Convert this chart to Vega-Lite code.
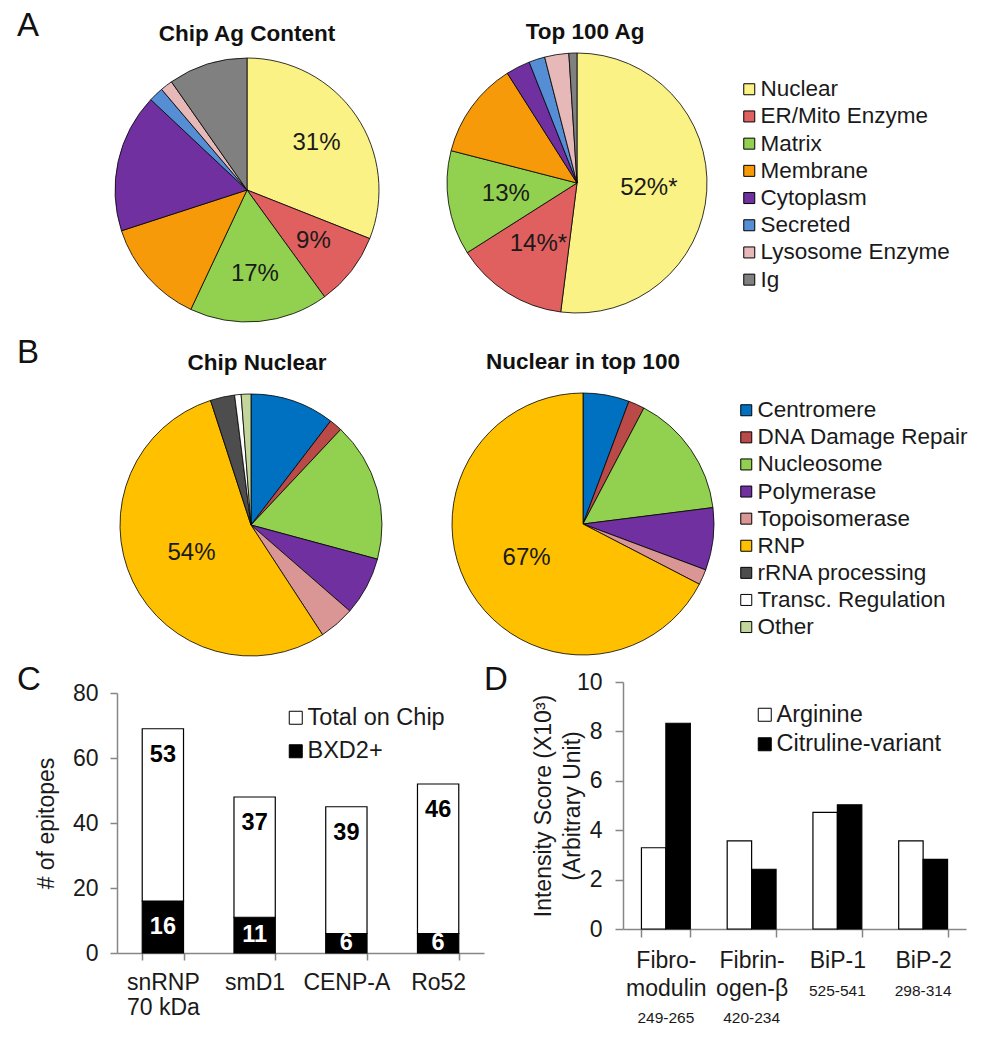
{
  "$schema": "https://vega.github.io/schema/vega-lite/v6.json",
  "padding": {"left": 17, "top": 10, "right": 0, "bottom": 0},
  "background": "white",
  "config": {
    "font": "Liberation Sans",
    "view": {"stroke": null},
    "title": {"font": "Liberation Sans", "color": "#111111"},
    "text": {"font": "Liberation Sans"},
    "legend": {"labelFont": "Liberation Sans", "labelColor": "#1a1a1a", "labelLimit": 400},
    "axis": {
      "grid": false,
      "domainColor": "#868686",
      "tickColor": "#868686",
      "domainWidth": 1.5,
      "tickWidth": 1.5,
      "labelColor": "#1a1a1a",
      "titleColor": "#1a1a1a",
      "labelFont": "Liberation Sans",
      "titleFont": "Liberation Sans",
      "labelFontSize": 23,
      "titleFontSize": 23,
      "titleFontWeight": "normal"
    }
  },
  "datasets": {
    "agChip": [
      {"c": "Nuclear", "v": 31, "r": 1, "l": "31%"},
      {"c": "ER/Mito Enzyme", "v": 9, "r": 2, "l": "9%"},
      {"c": "Matrix", "v": 17, "r": 3, "l": "17%"},
      {"c": "Membrane", "v": 13, "r": 4, "l": ""},
      {"c": "Cytoplasm", "v": 17, "r": 5, "l": ""},
      {"c": "Secreted", "v": 1.8, "r": 6, "l": ""},
      {"c": "Lysosome Enzyme", "v": 1.5, "r": 7, "l": ""},
      {"c": "Ig", "v": 9.7, "r": 8, "l": ""}
    ],
    "agTop": [
      {"c": "Nuclear", "v": 52, "r": 1, "l": "52%*"},
      {"c": "ER/Mito Enzyme", "v": 14, "r": 2, "l": "14%*"},
      {"c": "Matrix", "v": 13, "r": 3, "l": "13%"},
      {"c": "Membrane", "v": 12, "r": 4, "l": ""},
      {"c": "Cytoplasm", "v": 3, "r": 5, "l": ""},
      {"c": "Secreted", "v": 2, "r": 6, "l": ""},
      {"c": "Lysosome Enzyme", "v": 3, "r": 7, "l": ""},
      {"c": "Ig", "v": 1, "r": 8, "l": ""}
    ],
    "nucChip": [
      {"c": "Centromere", "v": 10.4, "r": 1, "l": ""},
      {"c": "DNA Damage Repair", "v": 1.6, "r": 2, "l": ""},
      {"c": "Nucleosome", "v": 17.2, "r": 3, "l": ""},
      {"c": "Polymerase", "v": 7.2, "r": 4, "l": ""},
      {"c": "Topoisomerase", "v": 4.4, "r": 5, "l": ""},
      {"c": "RNP", "v": 54.2, "r": 6, "l": "54%"},
      {"c": "rRNA processing", "v": 3, "r": 7, "l": ""},
      {"c": "Transc. Regulation", "v": 0.8, "r": 8, "l": ""},
      {"c": "Other", "v": 1.2, "r": 9, "l": ""}
    ],
    "nucTop": [
      {"c": "Centromere", "v": 5.7, "r": 1, "l": ""},
      {"c": "DNA Damage Repair", "v": 2, "r": 2, "l": ""},
      {"c": "Nucleosome", "v": 15.3, "r": 3, "l": ""},
      {"c": "Polymerase", "v": 7.7, "r": 4, "l": ""},
      {"c": "Topoisomerase", "v": 1.9, "r": 5, "l": ""},
      {"c": "RNP", "v": 67.4, "r": 6, "l": "67%"}
    ],
    "epi": [
      {"p": "snRNP|70 kDa", "s": "BXD2+", "v": 16},
      {"p": "snRNP|70 kDa", "s": "Total on Chip", "v": 53},
      {"p": "smD1", "s": "BXD2+", "v": 11},
      {"p": "smD1", "s": "Total on Chip", "v": 37},
      {"p": "CENP-A", "s": "BXD2+", "v": 6},
      {"p": "CENP-A", "s": "Total on Chip", "v": 39},
      {"p": "Ro52", "s": "BXD2+", "v": 6},
      {"p": "Ro52", "s": "Total on Chip", "v": 46}
    ],
    "cit": [
      {"g": "Fibro-|modulin|249-265", "s": "Arginine", "v": 3.29},
      {"g": "Fibro-|modulin|249-265", "s": "Citruline-variant", "v": 8.33},
      {"g": "Fibrin-|ogen-β|420-234", "s": "Arginine", "v": 3.57},
      {"g": "Fibrin-|ogen-β|420-234", "s": "Citruline-variant", "v": 2.42},
      {"g": "BiP-1|525-541", "s": "Arginine", "v": 4.72},
      {"g": "BiP-1|525-541", "s": "Citruline-variant", "v": 5.03},
      {"g": "BiP-2|298-314", "s": "Arginine", "v": 3.57},
      {"g": "BiP-2|298-314", "s": "Citruline-variant", "v": 2.82}
    ]
  },
  "bounds": "full",
  "spacing": 0,
  "resolve": {"scale": {"color": "independent"}, "legend": {"color": "independent"}},
  "vconcat": [
    {
      "bounds": "flush",
      "spacing": 0,
      "resolve": {"scale": {"color": "independent"}, "legend": {"color": "independent"}},
      "hconcat": [
        {"width": 98, "height": 283, "data": {"values": [{}]}, "mark": {"type": "point", "opacity": 0},
         "title": {"text": "A", "anchor": "start", "frame": "group", "fontSize": 33, "fontWeight": "normal", "offset": 10}},
        {
          "width": 264, "height": 274,
          "data": {"name": "agChip"},
          "title": {"text": "Chip Ag Content", "frame": "group", "fontSize": 22.5, "fontWeight": "bold", "offset": 8},
          "encoding": {
            "theta": {"field": "v", "type": "quantitative", "stack": true},
            "color": {"field": "c", "type": "nominal",
              "scale": {"domain": ["Nuclear", "ER/Mito Enzyme", "Matrix", "Membrane", "Cytoplasm", "Secreted", "Lysosome Enzyme", "Ig"],
                        "range": ["#FAF285", "#E05F5F", "#92D050", "#F79A0A", "#7030A0", "#558ED5", "#E6B9B8", "#808080"]},
              "legend": null},
            "order": {"field": "r", "type": "quantitative"}
          },
          "layer": [
            {"mark": {"type": "arc", "radius": 132, "stroke": "black", "strokeWidth": 0.8}},
            {"mark": {"type": "text", "radius": 84, "fontSize": 24}, "encoding": {"text": {"field": "l"}, "fill": {"value": "#1a1a1a"}}}
          ]
        },
        {"width": 68, "height": 1, "data": {"values": [{}]}, "mark": {"type": "point", "opacity": 0}},
        {
          "width": 260, "height": 260,
          "data": {"name": "agTop"},
          "title": {"text": "Top 100 Ag", "frame": "group", "fontSize": 22.5, "fontWeight": "bold", "offset": 8, "dx": 8},
          "encoding": {
            "theta": {"field": "v", "type": "quantitative", "stack": true},
            "color": {"field": "c", "type": "nominal",
              "scale": {"domain": ["Nuclear", "ER/Mito Enzyme", "Matrix", "Membrane", "Cytoplasm", "Secreted", "Lysosome Enzyme", "Ig"],
                        "range": ["#FAF285", "#E05F5F", "#92D050", "#F79A0A", "#7030A0", "#558ED5", "#E6B9B8", "#808080"]},
              "legend": {"title": null, "orient": "none", "legendX": 291, "legendY": 25, "symbolType": "square", "symbolSize": 121,
                         "symbolStrokeColor": "black", "symbolStrokeWidth": 1, "labelFontSize": 22.5, "rowPadding": 4.2, "labelOffset": 0}},
            "order": {"field": "r", "type": "quantitative"}
          },
          "layer": [
            {"mark": {"type": "arc", "radius": 130, "stroke": "black", "strokeWidth": 0.8}},
            {"mark": {"type": "text", "radius": 72, "fontSize": 24}, "encoding": {"text": {"field": "l"}, "fill": {"value": "#1a1a1a"}}}
          ]
        }
      ]
    },
    {
      "bounds": "flush",
      "spacing": 0,
      "resolve": {"scale": {"color": "independent"}, "legend": {"color": "independent"}},
      "hconcat": [
        {"width": 103, "height": 1, "data": {"values": [{}]}, "mark": {"type": "point", "opacity": 0},
         "title": {"text": "B", "anchor": "start", "frame": "group", "fontSize": 33, "fontWeight": "normal", "offset": 22}},
        {
          "width": 262, "height": 262,
          "data": {"name": "nucChip"},
          "title": {"text": "Chip Nuclear", "frame": "group", "fontSize": 22.5, "fontWeight": "bold", "offset": 18, "dx": 6},
          "encoding": {
            "theta": {"field": "v", "type": "quantitative", "stack": true},
            "color": {"field": "c", "type": "nominal",
              "scale": {"domain": ["Centromere", "DNA Damage Repair", "Nucleosome", "Polymerase", "Topoisomerase", "RNP", "rRNA processing", "Transc. Regulation", "Other"],
                        "range": ["#0070C0", "#B94A48", "#92D050", "#7030A0", "#D99694", "#FFC000", "#4D4D4D", "#FFFFFF", "#C3D69B"]},
              "legend": null},
            "order": {"field": "r", "type": "quantitative"}
          },
          "layer": [
            {"mark": {"type": "arc", "radius": 131, "stroke": "black", "strokeWidth": 0.8}},
            {"mark": {"type": "text", "radius": 66, "fontSize": 24}, "encoding": {"text": {"field": "l"}, "fill": {"value": "#1a1a1a"}}}
          ]
        },
        {"width": 70, "height": 1, "data": {"values": [{}]}, "mark": {"type": "point", "opacity": 0}},
        {
          "width": 262, "height": 260,
          "data": {"name": "nucTop"},
          "title": {"text": "Nuclear in top 100", "frame": "group", "fontSize": 22.5, "fontWeight": "bold", "offset": 18},
          "encoding": {
            "theta": {"field": "v", "type": "quantitative", "stack": true},
            "color": {"field": "c", "type": "nominal",
              "scale": {"domain": ["Centromere", "DNA Damage Repair", "Nucleosome", "Polymerase", "Topoisomerase", "RNP", "rRNA processing", "Transc. Regulation", "Other"],
                        "range": ["#0070C0", "#B94A48", "#92D050", "#7030A0", "#D99694", "#FFC000", "#4D4D4D", "#FFFFFF", "#C3D69B"]},
              "legend": {"title": null, "orient": "none", "legendX": 283, "legendY": 5, "symbolType": "square", "symbolSize": 121,
                         "symbolStrokeColor": "black", "symbolStrokeWidth": 1, "labelFontSize": 22.5, "rowPadding": 4.1, "labelOffset": 0}},
            "order": {"field": "r", "type": "quantitative"}
          },
          "layer": [
            {"mark": {"type": "arc", "radius": 131, "stroke": "black", "strokeWidth": 0.8}},
            {"mark": {"type": "text", "radius": 66, "fontSize": 24}, "encoding": {"text": {"field": "l"}, "fill": {"value": "#1a1a1a"}}}
          ]
        }
      ]
    },
    {
      "bounds": "flush",
      "spacing": 0,
      "resolve": {"scale": {"color": "independent"}, "legend": {"color": "independent"}},
      "hconcat": [
        {"width": 100, "height": 1, "data": {"values": [{}]}, "mark": {"type": "point", "opacity": 0},
         "title": {"text": "C", "anchor": "start", "orient": "bottom", "frame": "group", "fontSize": 33, "fontWeight": "normal", "offset": 0}},
        {
          "width": 367, "height": 292,
          "data": {"name": "epi"},
          "encoding": {
            "x": {"field": "p", "type": "nominal", "sort": null,
                  "scale": {"paddingInner": 0.55, "paddingOuter": 0.275},
                  "axis": {"title": null, "labelAngle": 0, "tickBand": "extent", "tickSize": 7, "labelPadding": 11,
                           "labelBaseline": "top", "labelLineHeight": 25, "labelExpr": "split(datum.label, '|')"}}
          },
          "resolve": {"scale": {"y": "independent"}},
          "layer": [
            {
              "mark": {"type": "bar", "stroke": "black", "strokeWidth": 1.2},
              "encoding": {
                "y": {"field": "v", "type": "quantitative", "stack": "zero", "scale": {"domain": [0, 80], "range": [292, 32]},
                      "axis": {"values": [0, 20, 40, 60, 80], "title": "# of epitopes", "tickSize": 7, "labelPadding": 12, "titlePadding": 14}},
                "color": {"field": "s", "type": "nominal",
                  "scale": {"domain": ["Total on Chip", "BXD2+"], "range": ["#FFFFFF", "#000000"]},
                  "legend": {"title": null, "orient": "none", "legendX": 167, "legendY": 45, "symbolType": "square", "symbolSize": 169,
                             "symbolStrokeColor": "black", "symbolStrokeWidth": 1, "labelFontSize": 23.5, "rowPadding": 8.5, "labelOffset": 0}},
                "order": {"field": "s", "type": "ordinal", "sort": "ascending"}
              }
            },
            {
              "mark": {"type": "text", "dy": 26, "fontSize": 23.5, "fontWeight": "bold", "baseline": "middle"},
              "encoding": {
                "y": {"field": "v", "type": "quantitative", "stack": "zero", "scale": {"domain": [0, 80], "range": [292, 32]}, "axis": null},
                "detail": {"field": "s", "type": "nominal"},
                "order": {"field": "s", "type": "ordinal", "sort": "ascending"},
                "text": {"condition": {"test": "datum.s == 'Total on Chip'", "field": "v", "type": "quantitative"}, "value": ""},
                "fill": {"value": "#000000"}
              }
            },
            {
              "transform": [{"filter": "datum.s == 'BXD2+'"}],
              "mark": {"type": "text", "fontSize": 23.5, "fontWeight": "bold", "baseline": "middle"},
              "encoding": {
                "y": {"field": "v", "type": "quantitative", "scale": {"domain": [0, 160], "range": [292, 32]}, "axis": null},
                "text": {"field": "v", "type": "quantitative"},
                "fill": {"value": "#FFFFFF"}
              }
            }
          ]
        },
        {"width": 139, "height": 1, "data": {"values": [{}]}, "mark": {"type": "point", "opacity": 0},
         "title": {"text": "D", "anchor": "start", "orient": "bottom", "frame": "group", "fontSize": 33, "fontWeight": "normal", "offset": 0}},
        {
          "width": 343, "height": 268,
          "data": {"name": "cit"},
          "resolve": {"axis": {"x": "independent"}},
          "layer": [
            {
              "mark": {"type": "bar", "stroke": "black", "strokeWidth": 1.2},
              "encoding": {
                "x": {"field": "g", "type": "nominal", "sort": null,
                      "scale": {"paddingInner": 0.43, "paddingOuter": 0.215},
                      "axis": {"title": null, "orient": "bottom", "labelAngle": 0, "tickBand": "extent", "tickSize": 8, "labelPadding": 12,
                               "labelBaseline": "top", "labelLineHeight": 28,
                               "labelExpr": "length(split(datum.label, '|')) == 3 ? slice(split(datum.label, '|'), 0, 2) : [split(datum.label, '|')[0]]"}},
                "xOffset": {"field": "s", "type": "nominal", "sort": null, "scale": {"domain": ["Arginine", "Citruline-variant"]}},
                "y": {"field": "v", "type": "quantitative", "stack": null, "scale": {"domain": [0, 10], "range": [268, 21]},
                      "axis": {"values": [0, 2, 4, 6, 8, 10], "title": ["Intensity  Score (X10³)", "(Arbitrary Unit)"],
                               "titleLineHeight": 29, "titlePadding": -8, "tickSize": 8, "labelPadding": 13}},
                "color": {"field": "s", "type": "nominal",
                  "scale": {"domain": ["Arginine", "Citruline-variant"], "range": ["#FFFFFF", "#000000"]},
                  "legend": {"title": null, "orient": "none", "legendX": 130, "legendY": 42, "symbolType": "square", "symbolSize": 169,
                             "symbolStrokeColor": "black", "symbolStrokeWidth": 1, "labelFontSize": 23.5, "rowPadding": 4.5, "labelOffset": 0}}
              }
            },
            {
              "mark": {"type": "text", "text": ""},
              "encoding": {
                "x": {"field": "g", "type": "nominal", "sort": null,
                      "axis": {"title": null, "orient": "bottom", "labelAngle": 0, "domain": false, "ticks": false, "tickSize": 0, "labelPadding": 54,
                               "labelBaseline": "top", "labelFontSize": 15.5, "labelLineHeight": 27,
                               "labelExpr": "length(split(datum.label, '|')) == 3 ? ['', split(datum.label, '|')[2]] : [split(datum.label, '|')[1]]"}}
              }
            }
          ]
        }
      ]
    }
  ]
}
